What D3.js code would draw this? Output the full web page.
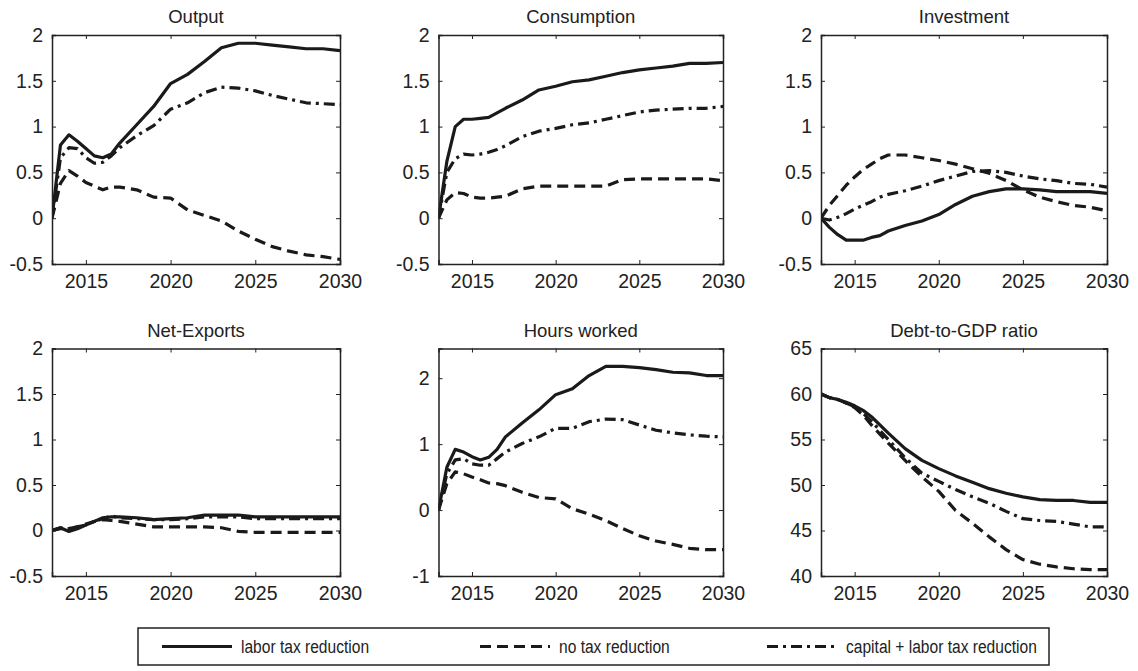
<!DOCTYPE html>
<html>
<head>
<meta charset="utf-8">
<script src="https://cdn.jsdelivr.net/npm/d3@7"></script>
<style>
  html, body { margin: 0; padding: 0; background: #fff; }
  svg { display: block; }
  text { font-family: "Liberation Sans", Arial, sans-serif; fill: #222; }
</style>
</head>
<body>
<svg id="chart" width="1138" height="671"></svg>
<script>
// ---------- data ----------
const years = [2013, 2013.5, 2014, 2014.5, 2015, 2015.5, 2016, 2016.5, 2017, 2018, 2019, 2020, 2021, 2022, 2023, 2024, 2025, 2026, 2027, 2028, 2029, 2030];
const xTicks = [2015, 2020, 2025, 2030];
const seriesNames = ["labor tax reduction", "no tax reduction", "capital + labor tax reduction"];
const panelTitles = ["Output", "Consumption", "Investment", "Net-Exports", "Hours worked", "Debt-to-GDP ratio"];

const outputLabor    = [0, 0.80, 0.91, 0.84, 0.76, 0.68, 0.66, 0.70, 0.82, 1.02, 1.22, 1.47, 1.57, 1.71, 1.86, 1.91, 1.91, 1.89, 1.87, 1.85, 1.85, 1.83];
const outputNoTax    = [0, 0.38, 0.52, 0.46, 0.39, 0.35, 0.31, 0.34, 0.34, 0.31, 0.23, 0.22, 0.09, 0.03, -0.03, -0.14, -0.23, -0.31, -0.36, -0.40, -0.42, -0.45];
const outputCapLabor = [0, 0.66, 0.77, 0.76, 0.66, 0.60, 0.61, 0.68, 0.77, 0.90, 1.01, 1.19, 1.26, 1.37, 1.43, 1.42, 1.39, 1.34, 1.30, 1.26, 1.25, 1.24];

const consLabor    = [0, 0.62, 1.00, 1.08, 1.08, 1.09, 1.10, 1.15, 1.20, 1.29, 1.40, 1.44, 1.49, 1.51, 1.55, 1.59, 1.62, 1.64, 1.66, 1.69, 1.69, 1.70];
const consNoTax    = [0, 0.20, 0.28, 0.27, 0.23, 0.22, 0.22, 0.23, 0.24, 0.32, 0.35, 0.35, 0.35, 0.35, 0.35, 0.42, 0.43, 0.43, 0.43, 0.43, 0.43, 0.41];
const consCapLabor = [0, 0.50, 0.65, 0.70, 0.69, 0.70, 0.72, 0.75, 0.79, 0.89, 0.95, 0.98, 1.02, 1.04, 1.08, 1.12, 1.16, 1.18, 1.19, 1.20, 1.20, 1.22];

const invLabor    = [0, -0.10, -0.18, -0.24, -0.24, -0.24, -0.21, -0.19, -0.14, -0.08, -0.03, 0.04, 0.15, 0.24, 0.29, 0.32, 0.32, 0.31, 0.29, 0.29, 0.29, 0.27];
const invNoTax    = [0, 0.14, 0.25, 0.36, 0.45, 0.53, 0.59, 0.65, 0.69, 0.69, 0.66, 0.63, 0.59, 0.54, 0.49, 0.41, 0.31, 0.23, 0.18, 0.14, 0.12, 0.08];
const invCapLabor = [0, -0.02, 0.01, 0.05, 0.10, 0.14, 0.18, 0.23, 0.26, 0.30, 0.35, 0.41, 0.46, 0.51, 0.52, 0.50, 0.46, 0.43, 0.41, 0.38, 0.37, 0.34];

const nxLabor    = [0, 0.03, -0.01, 0.02, 0.06, 0.10, 0.14, 0.15, 0.15, 0.14, 0.12, 0.13, 0.14, 0.17, 0.17, 0.17, 0.15, 0.15, 0.15, 0.15, 0.15, 0.15];
const nxNoTax    = [0, 0.02, 0.02, 0.04, 0.07, 0.10, 0.12, 0.11, 0.10, 0.07, 0.04, 0.04, 0.04, 0.04, 0.03, -0.01, -0.02, -0.02, -0.02, -0.02, -0.02, -0.02];
const nxCapLabor = [0, 0.03, 0.02, 0.04, 0.06, 0.10, 0.13, 0.16, 0.14, 0.13, 0.12, 0.12, 0.13, 0.15, 0.15, 0.15, 0.13, 0.13, 0.13, 0.13, 0.13, 0.13];

const hoursLabor    = [0, 0.65, 0.92, 0.88, 0.81, 0.76, 0.80, 0.92, 1.11, 1.32, 1.52, 1.75, 1.84, 2.04, 2.18, 2.18, 2.16, 2.13, 2.09, 2.08, 2.04, 2.04];
const hoursNoTax    = [0, 0.40, 0.58, 0.55, 0.50, 0.46, 0.41, 0.40, 0.37, 0.27, 0.19, 0.17, 0.02, -0.06, -0.16, -0.28, -0.39, -0.47, -0.52, -0.58, -0.60, -0.60];
const hoursCapLabor = [0, 0.55, 0.76, 0.78, 0.70, 0.68, 0.68, 0.78, 0.88, 1.01, 1.11, 1.24, 1.24, 1.34, 1.38, 1.37, 1.29, 1.21, 1.17, 1.14, 1.12, 1.11];

const debtLabor    = [60, 59.6, 59.4, 59.1, 58.7, 58.2, 57.5, 56.6, 55.7, 54.0, 52.7, 51.8, 51.0, 50.3, 49.6, 49.1, 48.7, 48.4, 48.3, 48.3, 48.1, 48.1];
const debtNoTax    = [60, 59.6, 59.4, 59.0, 58.5, 57.7, 56.6, 55.6, 54.6, 52.7, 50.9, 49.3, 47.2, 45.8, 44.3, 42.9, 41.8, 41.3, 41.0, 40.8, 40.7, 40.7];
const debtCapLabor = [60, 59.6, 59.4, 59.0, 58.6, 57.9, 57.0, 56.0, 55.0, 53.0, 51.3, 50.4, 49.5, 48.7, 48.0, 47.1, 46.3, 46.1, 46.0, 45.7, 45.4, 45.4];

const yTicksStd   = [-0.5, 0, 0.5, 1, 1.5, 2];
const yTicksHours = [-1, 0, 1, 2];
const yTicksDebt  = [40, 45, 50, 55, 60, 65];

const yDomains = [[-0.5, 2], [-0.5, 2], [-0.5, 2], [-0.5, 2], [-1, 2.45], [40, 65]];
const yTickSets = [yTicksStd, yTicksStd, yTicksStd, yTicksStd, yTicksHours, yTicksDebt];
const panelSeries = [
  [outputLabor, outputNoTax, outputCapLabor],
  [consLabor, consNoTax, consCapLabor],
  [invLabor, invNoTax, invCapLabor],
  [nxLabor, nxNoTax, nxCapLabor],
  [hoursLabor, hoursNoTax, hoursCapLabor],
  [debtLabor, debtNoTax, debtCapLabor]
];

// ---------- layout / style ----------
const colLeft = [52, 438.5, 821];
const colRight = [340, 723, 1107];
const rowTop = [35, 348.5];
const rowBottom = [264, 576];
const dashes = [null, "11,6", "11,5,3,5"];
const ink = "#1a1a1a";

const svg = d3.select("#chart");

panelTitles.forEach((title, i) => {
  const r = Math.floor(i / 3), c = i % 3;
  const x0 = colLeft[c], x1 = colRight[c], y0 = rowTop[r], y1 = rowBottom[r];
  const x = d3.scaleLinear().domain([2013, 2030]).range([x0, x1]);
  const y = d3.scaleLinear().domain(yDomains[i]).range([y1, y0]);
  const g = svg.append("g");

  const clipId = "clip" + i;
  svg.append("clipPath").attr("id", clipId)
    .append("rect").attr("x", x0).attr("y", y0).attr("width", x1 - x0).attr("height", y1 - y0);

  const line = d3.line().x((d, k) => x(years[k])).y(d => y(d));
  const order = [1, 2, 0];
  order.forEach(s => {
    g.append("path")
      .datum(panelSeries[i][s])
      .attr("d", line)
      .attr("clip-path", `url(#${clipId})`)
      .attr("fill", "none")
      .attr("stroke", ink)
      .attr("stroke-width", 3.2)
      .attr("stroke-linejoin", "round")
      .attr("stroke-dasharray", dashes[s]);
  });

  const tl = 4;
  const bottomAx = d3.axisBottom(x).tickValues(xTicks).tickSize(-tl).tickPadding(10).tickFormat(d3.format("d"));
  const topAx = d3.axisTop(x).tickValues(xTicks).tickSize(-tl).tickFormat("");
  const leftAx = d3.axisLeft(y).tickValues(yTickSets[i]).tickSize(-tl).tickPadding(9).tickFormat(d => String(d));
  const rightAx = d3.axisRight(y).tickValues(yTickSets[i]).tickSize(-tl).tickFormat("");

  const styleAxis = sel => {
    sel.select(".domain").attr("stroke", "#222").attr("stroke-width", 1.5);
    sel.selectAll(".tick line").attr("stroke", "#222").attr("stroke-width", 1);
    sel.selectAll("text").attr("font-size", 19.5).attr("fill", "#222")
      .attr("font-family", "'Liberation Sans', Arial, sans-serif");
  };

  g.append("g").attr("transform", `translate(0,${y1})`).call(bottomAx).call(styleAxis);
  g.append("g").attr("transform", `translate(0,${y0})`).call(topAx).call(styleAxis);
  g.append("g").attr("transform", `translate(${x0},0)`).call(leftAx).call(styleAxis);
  g.append("g").attr("transform", `translate(${x1},0)`).call(rightAx).call(styleAxis);

  g.append("text")
    .attr("x", (x0 + x1) / 2)
    .attr("y", y0 - 12)
    .attr("text-anchor", "middle")
    .attr("font-size", 18.5)
    .text(title);
});

// ---------- legend ----------
const legendBox = { x: 138, y: 628, w: 911, h: 37 };
const legendSampleX = [162, 480, 767];
const sampleLen = 70;
const lg = svg.append("g");
lg.append("rect")
  .attr("x", legendBox.x).attr("y", legendBox.y)
  .attr("width", legendBox.w).attr("height", legendBox.h)
  .attr("fill", "#fff").attr("stroke", "#222").attr("stroke-width", 1.5);

seriesNames.forEach((name, s) => {
  const ly = legendBox.y + legendBox.h / 2;
  lg.append("line")
    .attr("x1", legendSampleX[s]).attr("x2", legendSampleX[s] + sampleLen)
    .attr("y1", ly).attr("y2", ly)
    .attr("stroke", ink).attr("stroke-width", 3.2)
    .attr("stroke-dasharray", dashes[s]);
  lg.append("text")
    .attr("transform", `translate(${legendSampleX[s] + sampleLen + 9},${ly + 6.5}) scale(0.82,1)`)
    .attr("font-size", 19)
    .text(name);
});
</script>
</body>
</html>
